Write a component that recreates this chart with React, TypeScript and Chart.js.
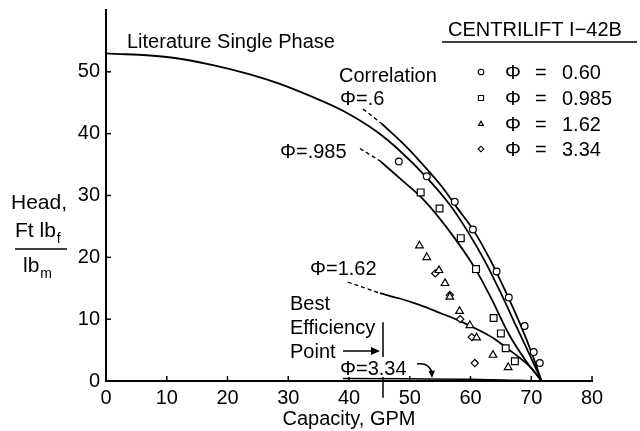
import React, { useEffect, useRef } from 'react';
import { Chart, registerables } from 'chart.js';
import { drawPoint } from 'chart.js/helpers';

Chart.register(...registerables);

// ---- Axis ticks ----
const xTickValues = [0, 10, 20, 30, 40, 50, 60, 70, 80];
const yTickValues = [0, 10, 20, 30, 40, 50];

// ---- Measured data points (Capacity GPM, Head) ----
const phi060Points: [number, number][] = [
  [48.2, 35.5], [52.8, 33.1], [57.4, 29.0], [60.4, 24.5], [64.3, 17.7],
  [66.3, 13.5], [68.9, 8.9], [70.4, 4.7], [71.4, 2.9],
];
const phi0985Points: [number, number][] = [
  [51.8, 30.5], [54.9, 27.9], [58.4, 23.1], [60.9, 18.1], [63.8, 10.2],
  [65.0, 7.7], [65.8, 5.3], [67.3, 3.2],
];
const phi162Points: [number, number][] = [
  [51.6, 21.9], [52.8, 20.0], [54.8, 17.9], [55.8, 15.8], [56.6, 13.6],
  [58.2, 11.3], [59.9, 9.0], [61.0, 7.0], [63.7, 4.2], [66.2, 2.2],
];
const phi334Points: [number, number][] = [
  [54.2, 17.4], [56.6, 13.9], [58.3, 10.0], [60.2, 7.1], [60.7, 2.9],
];

// ---- Curves ----
const literatureCurve: [number, number][] = [
  [0, 53.0], [10, 52.4], [17.6, 51.1], [23.7, 49.6], [28.5, 48.1], [33.6, 46.1],
  [39.0, 43.7], [44.6, 40.3], [48.4, 37.2], [52.8, 32.9], [56.6, 28.5],
  [59.4, 24.4], [62.3, 19.5], [65.0, 14.2], [67.6, 8.7], [69.9, 3.9], [71.7, 0],
];
const corr060Curve: [number, number][] = [
  [45.4, 41.6], [48.8, 38.5], [51.6, 35.6], [55.4, 31.3], [57.8, 28.0],
  [60.6, 24.2], [63.3, 19.5], [65.9, 14.2], [68.3, 8.9], [70.2, 4.2], [71.7, 0],
];
const corr060Leader: [number, number][] = [[42.3, 44.0], [45.4, 41.6]];
const corr0985Curve: [number, number][] = [
  [45.1, 35.6], [48.8, 32.4], [52.1, 29.5], [56.1, 24.8], [60.7, 18.3],
  [63.5, 13.2], [66.3, 7.6], [69.3, 3.0], [71.7, 0],
];
const corr0985Leader: [number, number][] = [[41.8, 37.6], [45.1, 35.6]];
const corr162Curve: [number, number][] = [
  [45.1, 14.2], [48.5, 13.3], [51.6, 12.3], [55.0, 11.0], [58.0, 9.8],
  [61.0, 8.4], [63.8, 6.9], [66.0, 5.3], [68.3, 3.6], [70.2, 1.9], [71.7, 0],
];
const corr162Leader: [number, number][] = [[39.8, 16.0], [45.1, 14.2]];
const corr334Curve: [number, number][] = [[39.0, 0.4], [50.0, 0.35], [60.0, 0.3], [71.7, 0]];
const bepMarker: [number, number][] = [[45.6, 9.5], [45.6, -2.7]];

// ---- Legend ----
const legendTitle = 'CENTRILIFT I\u221242B';
const legendValues = ['0.60', '0.985', '1.62', '3.34'];
const legendStyles = ['circle', 'rect', 'triangle', 'rectRot'];

const FONT = '"Liberation Sans", Arial, Helvetica, sans-serif';

const toXY = (arr: [number, number][]) => arr.map(([x, y]) => ({ x, y }));

function markerSet(label: string, pts: [number, number][], style: string, radius: number) {
  return {
    label,
    data: toXY(pts),
    showLine: false,
    pointStyle: style,
    pointRadius: radius,
    pointBorderWidth: 1.2,
    pointBackgroundColor: '#fff',
    pointBorderColor: '#000',
    order: 0,
  };
}

function curveSet(label: string, pts: [number, number][], width = 1.8, dash: number[] = []) {
  return {
    label,
    data: toXY(pts),
    showLine: true,
    borderColor: '#000',
    borderWidth: width,
    borderDash: dash,
    pointRadius: 0,
    cubicInterpolationMode: 'monotone',
    order: 1,
  };
}

const annotationPlugin = {
  id: 'annotations',
  afterDraw(chart: any) {
    const ctx: CanvasRenderingContext2D = chart.ctx;
    const { left, bottom } = chart.chartArea;
    const xs = chart.scales.x;
    const ys = chart.scales.y;
    ctx.save();
    ctx.strokeStyle = '#000';
    ctx.fillStyle = '#000';
    ctx.lineWidth = 1.5;

    // inward tick marks
    xTickValues.forEach((v) => {
      const px = xs.getPixelForValue(v);
      ctx.beginPath(); ctx.moveTo(px, bottom); ctx.lineTo(px, bottom - 5); ctx.stroke();
    });
    yTickValues.forEach((v) => {
      const py = ys.getPixelForValue(v);
      ctx.beginPath(); ctx.moveTo(left, py); ctx.lineTo(left + 5, py); ctx.stroke();
    });

    // y-axis title
    ctx.textBaseline = 'alphabetic';
    ctx.textAlign = 'left';
    ctx.font = `21px ${FONT}`;
    ctx.fillText('Head,', 11, 209);
    ctx.fillText('Ft lb', 15, 237);
    const w1 = ctx.measureText('Ft lb').width;
    ctx.fillText('lb', 23, 272);
    const w2 = ctx.measureText('lb').width;
    ctx.font = `14px ${FONT}`;
    ctx.fillText('f', 15 + w1 + 1, 243);
    ctx.fillText('m', 23 + w2 + 1, 278);
    ctx.beginPath(); ctx.moveTo(15, 249); ctx.lineTo(67, 249); ctx.stroke();

    // annotations
    ctx.font = `20px ${FONT}`;
    ctx.fillText('Literature Single Phase', 127, 48);
    ctx.fillText('Correlation', 339, 82);
    ctx.fillText('\u03A6=.6', 340, 105);
    ctx.fillText('\u03A6=.985', 280, 158);
    ctx.fillText('\u03A6=1.62', 310, 275);
    ctx.fillText('Best', 290, 310);
    ctx.fillText('Efficiency', 290, 334);
    ctx.fillText('Point', 290, 358);
    const t334 = '\u03A6=3.34';
    const w334 = ctx.measureText(t334).width;
    ctx.fillStyle = '#fff';
    ctx.fillRect(339, 357, w334 + 2, 20);
    ctx.fillStyle = '#000';
    ctx.fillText(t334, 340, 375);

    // arrow from "Point"
    ctx.beginPath(); ctx.moveTo(343, 351); ctx.lineTo(374, 351); ctx.stroke();
    ctx.beginPath(); ctx.moveTo(380, 351); ctx.lineTo(371, 347); ctx.lineTo(371, 355); ctx.closePath(); ctx.fill();

    // curved arrow from Φ=3.34
    ctx.beginPath(); ctx.moveTo(417, 364); ctx.quadraticCurveTo(429, 362, 432, 373); ctx.stroke();
    ctx.beginPath(); ctx.moveTo(432, 378); ctx.lineTo(428.5, 371); ctx.lineTo(435, 370.5); ctx.closePath(); ctx.fill();

    // legend
    ctx.font = `20px ${FONT}`;
    ctx.fillText(legendTitle, 448, 36);
    ctx.beginPath(); ctx.moveTo(442, 42); ctx.lineTo(637, 42); ctx.stroke();
    const rowCenters = [72, 98, 124, 149];
    legendValues.forEach((val, i) => {
      const cy = rowCenters[i];
      ctx.fillStyle = '#fff';
      ctx.strokeStyle = '#000';
      ctx.lineWidth = 1.1;
      drawPoint(ctx, { pointStyle: legendStyles[i] as any, radius: legendStyles[i] === 'rect' ? 3.6 : 2.8, rotation: 0, borderWidth: 1.1 } as any, 481, cy);
      ctx.fillStyle = '#000';
      ctx.font = `20px ${FONT}`;
      ctx.fillText('\u03A6', 505, cy + 7);
      ctx.fillText('=', 535, cy + 7);
      ctx.fillText(val, 562, cy + 7);
    });
    ctx.restore();
  },
};

export default function App() {
  const ref = useRef<HTMLCanvasElement | null>(null);
  useEffect(() => {
    if (!ref.current) return;
    const chart = new Chart(ref.current, {
      type: 'scatter',
      data: {
        datasets: [
          markerSet('\u03A6 = 0.60', phi060Points, 'circle', 3.4),
          markerSet('\u03A6 = 0.985', phi0985Points, 'rect', 4.8),
          markerSet('\u03A6 = 1.62', phi162Points, 'triangle', 4.4),
          markerSet('\u03A6 = 3.34', phi334Points, 'rectRot', 3.6),
          curveSet('Literature Single Phase', literatureCurve),
          curveSet('Correlation \u03A6=.6', corr060Curve),
          curveSet('leader .6', corr060Leader, 1.4, [4, 3]),
          curveSet('Correlation \u03A6=.985', corr0985Curve),
          curveSet('leader .985', corr0985Leader, 1.4, [4, 3]),
          curveSet('Correlation \u03A6=1.62', corr162Curve),
          curveSet('leader 1.62', corr162Leader, 1.4, [4, 3]),
          curveSet('Correlation \u03A6=3.34', corr334Curve, 1.5),
          { ...curveSet('Best Efficiency Point', bepMarker, 1.5), cubicInterpolationMode: 'default', clip: false },
        ] as any,
      },
      options: {
        animation: false,
        responsive: false,
        maintainAspectRatio: false,
        layout: { padding: { top: 10, right: 48, left: 0, bottom: 0 } },
        plugins: { legend: { display: false }, tooltip: { enabled: false } },
        scales: {
          x: {
            type: 'linear',
            min: 0,
            max: 80,
            grid: { display: false, drawTicks: false },
            border: { display: true, color: '#000', width: 2 },
            ticks: {
              stepSize: 10,
              color: '#000',
              padding: 5,
              maxRotation: 0,
              font: { size: 20, family: FONT },
            },
            title: {
              display: true,
              text: 'Capacity, GPM',
              color: '#000',
              font: { size: 20, family: FONT },
              padding: 0,
            },
            afterFit: (s: any) => { s.height = 50; s.paddingLeft = 0; s.paddingRight = 0; },
          },
          y: {
            type: 'linear',
            min: 0,
            max: 60,
            grid: { display: false, drawTicks: false },
            border: { display: true, color: '#000', width: 2 },
            afterBuildTicks: (s: any) => { s.ticks = s.ticks.filter((t: any) => t.value <= 50); },
            ticks: {
              stepSize: 10,
              color: '#000',
              padding: 6,
              font: { size: 20, family: FONT },
            },
            afterFit: (s: any) => { s.width = 106; s.paddingTop = 0; s.paddingBottom = 0; },
          },
        },
      } as any,
      plugins: [annotationPlugin],
    });
    return () => chart.destroy();
  }, []);

  return (
    <div style={{ position: 'fixed', left: 0, top: 0, width: 640, height: 431, background: '#fff' }}>
      <canvas ref={ref} width={640} height={431} style={{ width: 640, height: 431 }} />
    </div>
  );
}
